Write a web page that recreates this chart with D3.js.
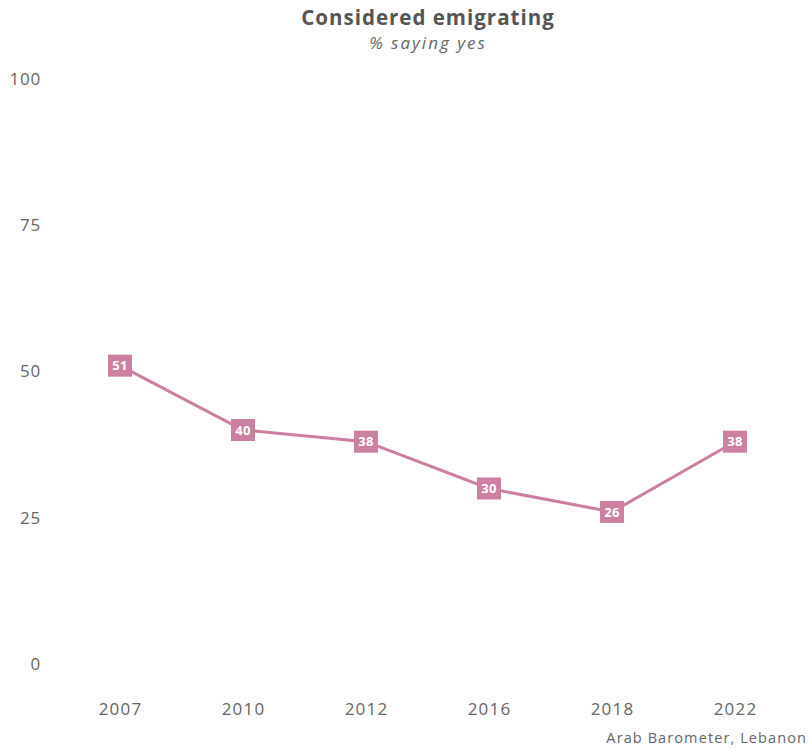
<!DOCTYPE html>
<html>
<head>
<meta charset="utf-8">
<script src="https://cdn.jsdelivr.net/npm/d3@7"></script>
<style>
  html, body { margin: 0; padding: 0; background: #fff; }
  svg { display: block; font-family: "Open Sans", "Noto Sans", sans-serif; }
</style>
</head>
<body>
<svg id="chart" width="812" height="750"></svg>
<script>
// Share of Lebanese respondents who considered emigrating, by survey wave
const years = ["2007", "2010", "2012", "2016", "2018", "2022"];
const values = [51, 40, 38, 30, 26, 38];
const yTicks = [0, 25, 50, 75, 100];

const svg = d3.select("#chart");
const pink = "#cd7fa1";
const textGrey = "#666";
const font = "'Open Sans', 'Noto Sans', sans-serif";

const x = d3.scalePoint().domain(years).range([58.5, 796.5]).padding(0.5);
const y = d3.scaleLinear().domain([0, 100]).range([664, 79]);

// Title and subtitle
svg.append("text")
  .attr("x", 428).attr("y", 25)
  .attr("text-anchor", "middle")
  .attr("font-size", 20.5).attr("font-weight", 700)
  .attr("letter-spacing", 1)
  .attr("fill", "#555")
  .text("Considered emigrating");
svg.append("text")
  .attr("x", 428).attr("y", 49)
  .attr("text-anchor", "middle")
  .attr("font-size", 17).attr("font-style", "italic")
  .attr("letter-spacing", 2)
  .attr("fill", textGrey)
  .text("% saying yes");

// Y axis labels only
const yAxis = svg.append("g")
  .attr("transform", "translate(41,0)")
  .call(d3.axisLeft(y).tickValues(yTicks).tickSize(0).tickPadding(0));
yAxis.select(".domain").remove();
yAxis.selectAll("text")
  .attr("font-size", 17).attr("fill", textGrey)
  .attr("letter-spacing", 0.8)
  .attr("font-family", font);

// X axis labels only
const xAxis = svg.append("g")
  .attr("transform", "translate(0,703)")
  .call(d3.axisBottom(x).tickSize(0).tickPadding(0));
xAxis.select(".domain").remove();
xAxis.selectAll("text")
  .attr("font-size", 17).attr("fill", textGrey)
  .attr("letter-spacing", 1.2)
  .attr("font-family", font);

// Trend line
const line = d3.line()
  .x((d, i) => x(years[i]))
  .y(d => y(d));
svg.append("path")
  .datum(values)
  .attr("d", line)
  .attr("fill", "none")
  .attr("stroke", pink)
  .attr("stroke-width", 3);

// Value boxes
const pts = svg.append("g").selectAll("g")
  .data(values)
  .join("g")
  .attr("transform", (d, i) => `translate(${x(years[i])},${y(d)})`);
pts.append("rect")
  .attr("x", -12).attr("y", -11)
  .attr("width", 24).attr("height", 22)
  .attr("fill", pink);
pts.append("text")
  .attr("text-anchor", "middle")
  .attr("dy", "0.36em")
  .attr("font-size", 13).attr("font-weight", 700)
  .attr("letter-spacing", 0.4)
  .attr("fill", "#fff")
  .text(d => d);

// Source note
svg.append("text")
  .attr("x", 807).attr("y", 743)
  .attr("text-anchor", "end")
  .attr("font-size", 14.5)
  .attr("letter-spacing", 1.1)
  .attr("fill", textGrey)
  .text("Arab Barometer, Lebanon");
</script>
</body>
</html>
